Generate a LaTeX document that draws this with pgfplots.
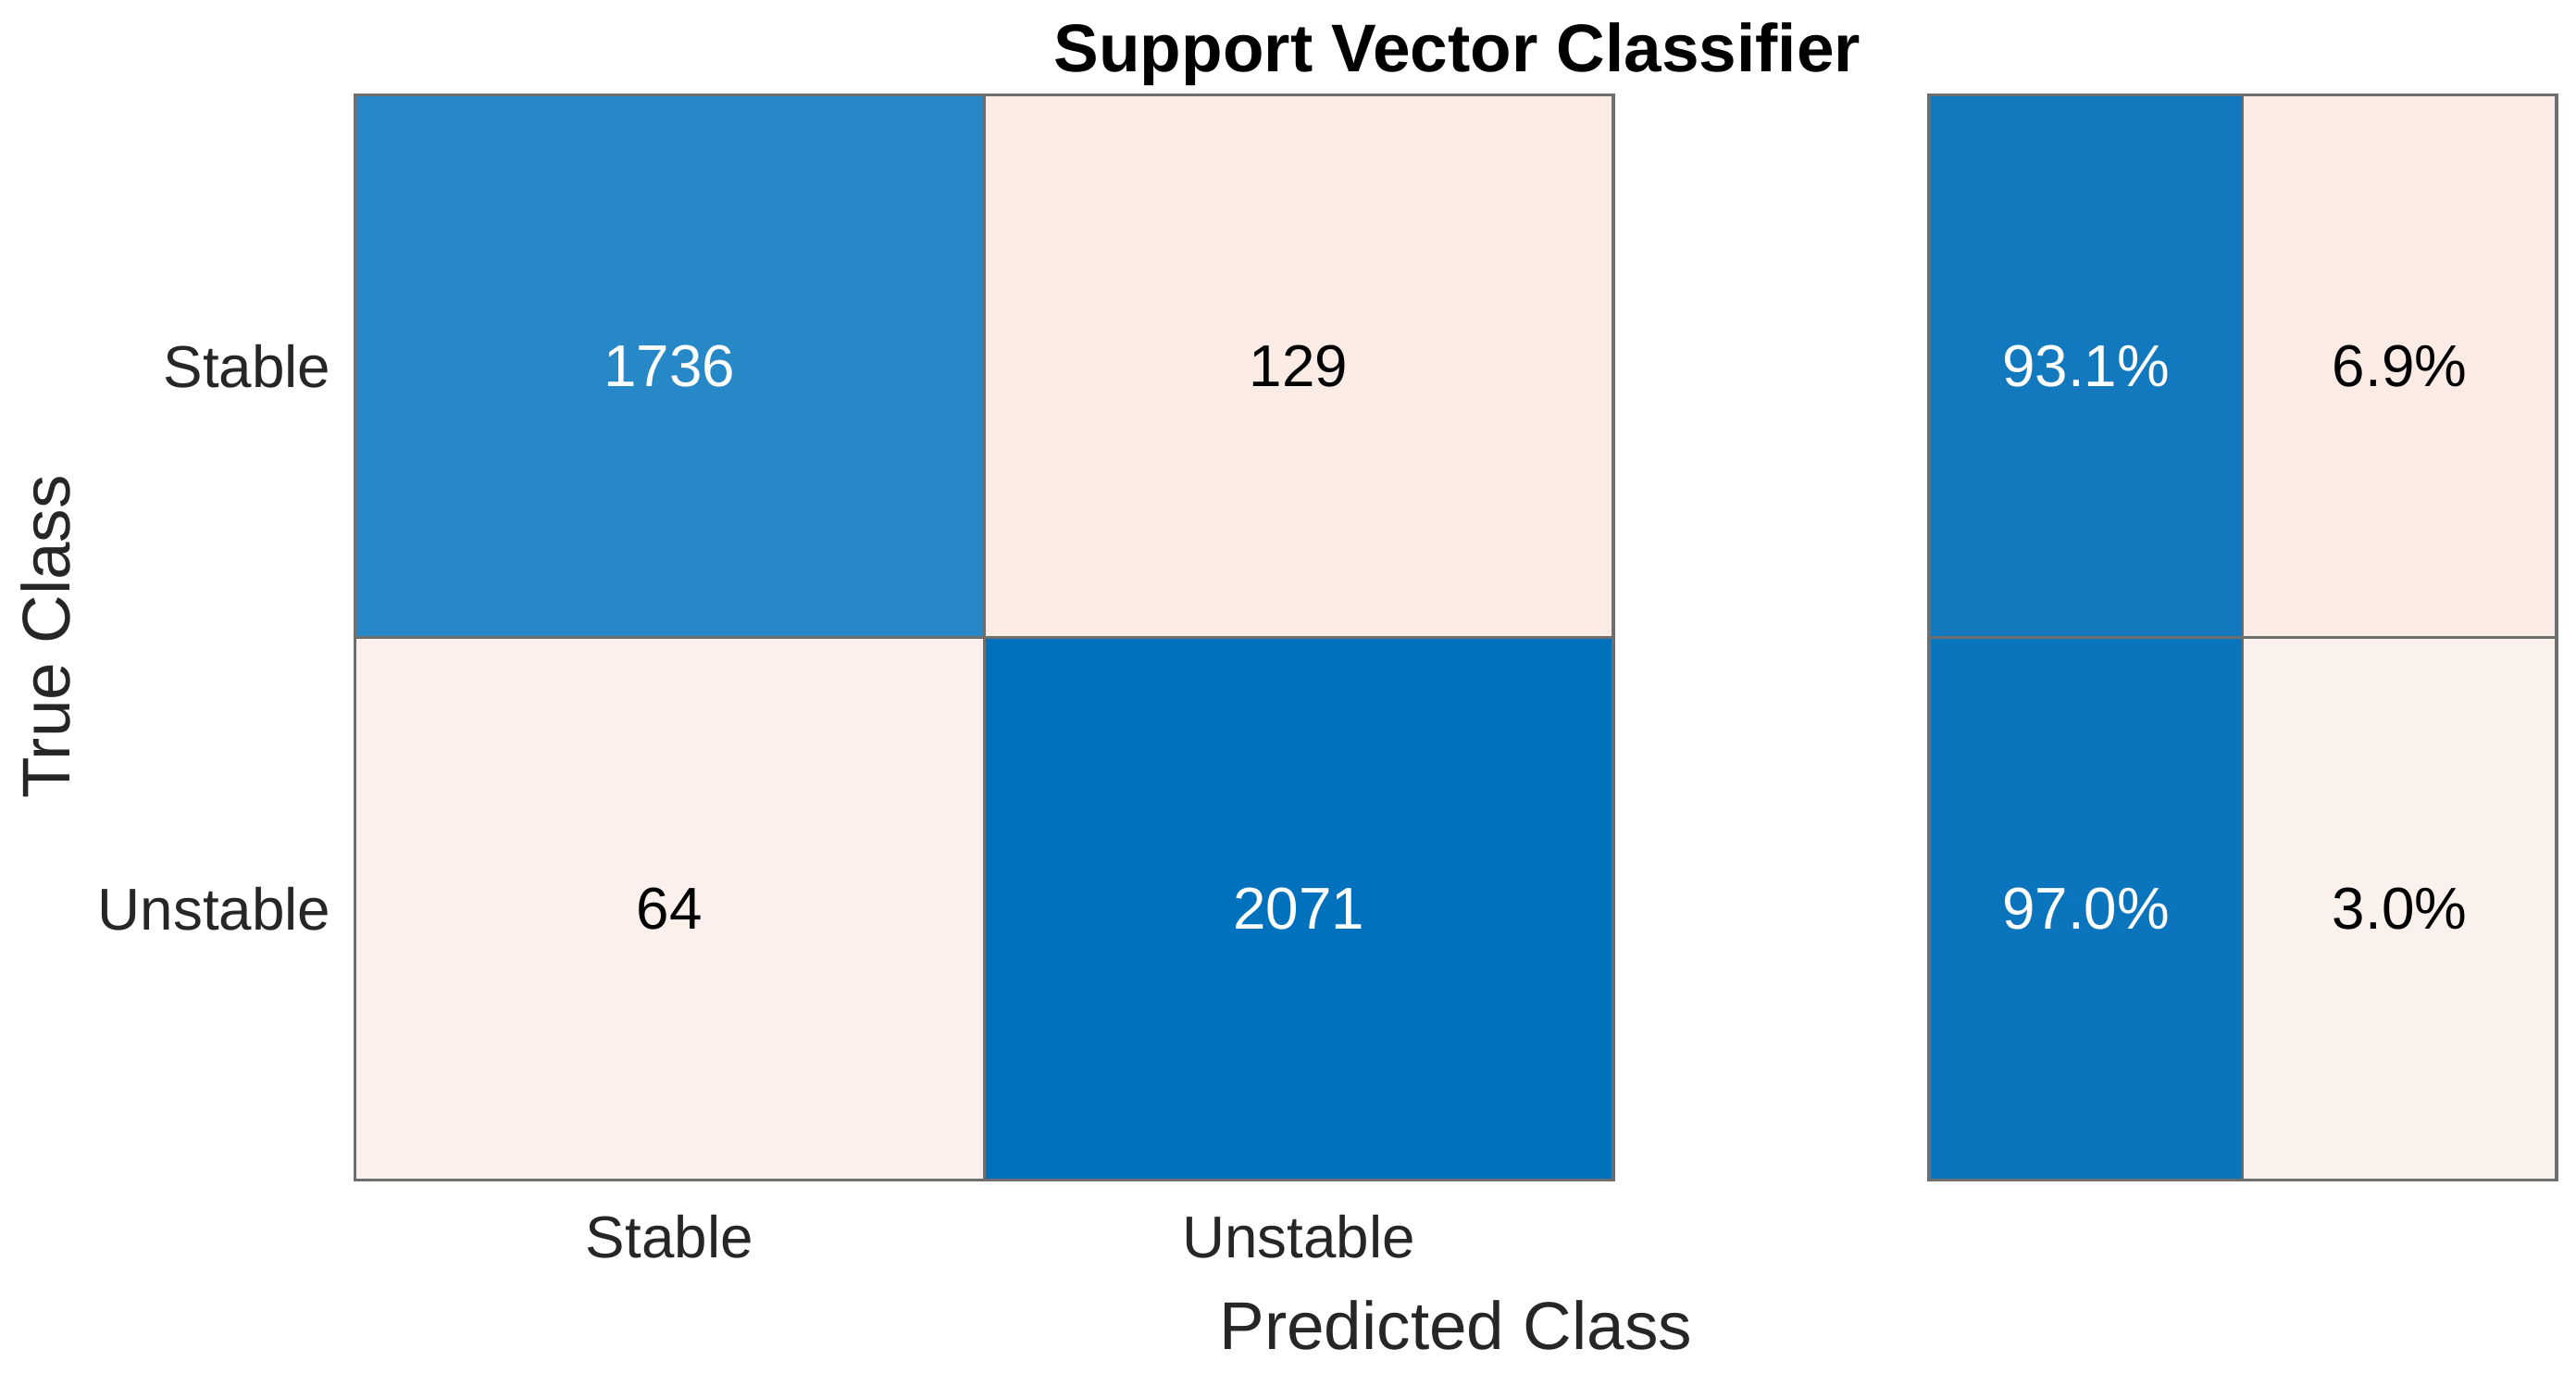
\documentclass[border=0pt]{standalone}
\usepackage{fontspec}
\setmainfont{Liberation Sans}
\usepackage{pgfplots}
\usepackage{pgfplotstable}
\pgfplotsset{compat=1.18}
\definecolor{lbl}{HTML}{262626}
\definecolor{frame}{HTML}{6E6E6E}

% counts: x = predicted, y = true, c = colour index, dark = white text
\pgfplotstableread{
x y c lab dark
0 0 0 1736 1
1 0 1 129 0
0 1 2 64 0
1 1 3 2071 1
}\counts
% row-normalised percentages
\pgfplotstableread{
x y c lab dark
0 0 4 93.1 1
1 0 5 6.9 0
0 1 6 97.0 1
1 1 7 3.0 0
}\rates

\pgfplotsset{
  cmbase/.style={
    scale only axis, height=292.9bp,
    anchor=south west,
    xmin=-0.5, xmax=1.5, ymin=-0.5, ymax=1.5, y dir=reverse,
    xtick={0,1}, ytick={0,1},
    minor xtick={0.5}, minor ytick={0.5},
    grid=minor, minor grid style={frame, line width=0.7pt},
    major tick length=0pt, minor tick length=0pt,
    axis line style={frame, line width=0.8pt},
    axis on top,
    colormap={cm}{
      rgb255=(39,136,200) rgb255=(250,235,228) rgb255=(251,240,235) rgb255=(0,114,189)
      rgb255=(18,121,191) rgb255=(250,235,228) rgb255=(10,116,188) rgb255=(251,241,236)},
    colormap access=direct,
    tick label style={font=\fontsize{16}{19}\selectfont, text=lbl},
    xticklabel style={yshift=-6bp},
    yticklabel style={xshift=-3bp},
  },
  cells/.style={matrix plot*, mesh/cols=2, point meta=explicit},
  cellText/.style={
    only marks, mark=none, point meta=explicit symbolic,
    visualization depends on={\thisrow{dark}\as\dark},
    nodes near coords align=center,
    every node near coord/.append style={anchor=center, font=\fontsize{16}{19}\selectfont},
  },
}

\begin{document}
\begin{tikzpicture}
\useasboundingbox (0,0) rectangle (695.75bp,371bp);
\begin{axis}[cmbase, at={(95.85bp,52.4bp)}, width=339.9bp,
  xticklabels={Stable,Unstable}, yticklabels={Stable,Unstable}]
\addplot[cells] table[x=x, y=y, meta=c] {\counts};
\addplot[cellText, nodes near coords={\ifdim\dark pt>0.5pt\color{white}\fi\pgfplotspointmeta}]
  table[x=x, y=y, meta=lab] {\counts};
\end{axis}
\begin{axis}[cmbase, at={(521.0bp,52.4bp)}, width=169.5bp,
  xticklabels={}, yticklabels={}]
\addplot[cells] table[x=x, y=y, meta=c] {\rates};
\addplot[cellText, nodes near coords={\ifdim\dark pt>0.5pt\color{white}\fi\pgfplotspointmeta\%}]
  table[x=x, y=y, meta=lab] {\rates};
\end{axis}
\node[font=\bfseries\fontsize{18.3}{22}\selectfont, anchor=base, inner sep=0pt]
  at (393.6bp,351.5bp) {Support Vector Classifier};
\node[font=\fontsize{18.3}{22}\selectfont, text=lbl, anchor=base, inner sep=0pt]
  at (393.2bp,6.6bp) {Predicted Class};
\node[font=\fontsize{18.3}{22}\selectfont, text=lbl, rotate=90] at (12.4bp,199bp) {True Class};
\end{tikzpicture}
\end{document}
